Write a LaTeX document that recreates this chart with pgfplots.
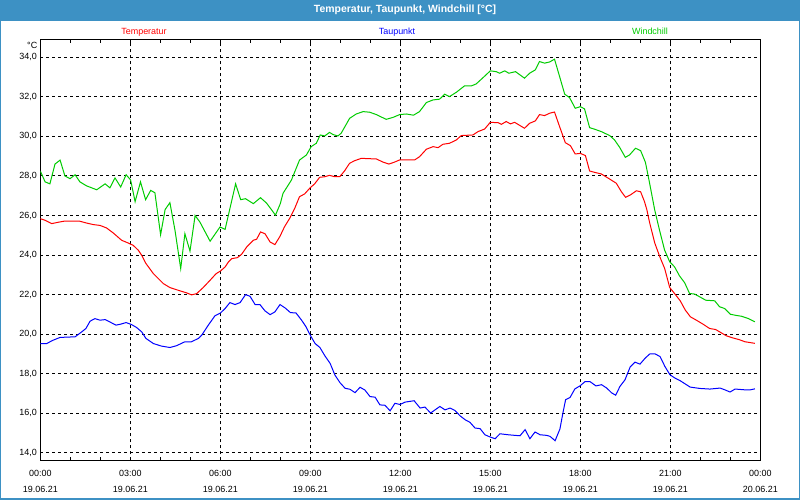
\documentclass[border=0pt]{standalone}
\usepackage{fontspec}
\setmainfont{Liberation Sans}
\usepackage{pgfplots}
\pgfplotsset{compat=1.18}
\definecolor{barblue}{RGB}{61,145,196}
\definecolor{wgreen}{RGB}{0,204,0}

\begin{document}
\begin{tikzpicture}[x=1bp,y=1bp]
\path[use as bounding box] (0,0) rectangle (800,500);
\fill[white] (0,0) rectangle (800,500);
\fill[barblue] (0,479) rectangle (800,500);
\draw[barblue, line width=1.5bp] (0.75,480) -- (0.75,0.75) -- (799.25,0.75) -- (799.25,480);
\node[white, font=\bfseries\fontsize{10.5}{12}\selectfont, anchor=base] at (405,487.7) {Temperatur, Taupunkt, Windchill [°C]};
\node[red, font=\fontsize{9}{11}\selectfont, anchor=base] at (144,465.8) {Temperatur};
\node[blue, font=\fontsize{9}{11}\selectfont, anchor=base] at (397,465.8) {Taupunkt};
\node[wgreen, font=\fontsize{9}{11}\selectfont, anchor=base] at (650,465.8) {Windchill};
\node[font=\fontsize{9}{11}\selectfont, anchor=base east, inner sep=0] at (37.5,451.8) {°C};

\begin{axis}[
    at={(40.3bp,39.7bp)}, anchor=south west,
    width=720bp, height=420.3bp, scale only axis,
    xmin=0, xmax=24, ymin=13.63, ymax=34.87,
    axis line style={black, line width=1bp},
    xtick={0,3,...,24},
    minor x tick num=2,
    xticklabels={{00:00\\19.06.21},{03:00\\19.06.21},{06:00\\19.06.21},{09:00\\19.06.21},{12:00\\19.06.21},{15:00\\19.06.21},{18:00\\19.06.21},{21:00\\19.06.21},{00:00\\20.06.21}},
    ytick={14,16,...,34},
    tick align=inside,
    major tick length=3bp, minor tick length=3bp,
    tick style={black, line width=1bp},
    ytick style={draw=none},
    xmajorgrids, ymajorgrids,
    major grid style={black, line width=1bp, dash pattern=on 3bp off 3bp},
    tick label style={font=\fontsize{9}{15.7}\selectfont},
    xticklabel style={align=center},
    xticklabel shift=6.5bp,
    yticklabel style={/pgf/number format/.cd, fixed, fixed zerofill, precision=1, use comma, assume math mode=true},
    every axis plot/.append style={line width=1bp, mark=none},
]
\addplot[wgreen] coordinates {
(0,28.25)(0.16,27.7)(0.32,27.6)(0.49,28.6)(0.66,28.8)(0.82,28.0)(0.99,27.86)(1.16,28.06)(1.32,27.7)(1.54,27.5)(1.88,27.3)(2.16,27.6)(2.32,27.4)(2.49,27.9)(2.68,27.44)(2.86,28.06)(3.01,27.8)(3.16,26.7)(3.34,27.7)(3.51,26.8)(3.68,27.27)(3.82,27.15)(4.01,25.03)(4.16,26.3)(4.32,26.65)(4.49,25.25)(4.68,23.32)(4.82,25.08)(4.99,24.2)(5.16,26.0)(5.32,25.67)(5.66,24.7)(5.99,25.42)(6.16,25.3)(6.32,26.35)(6.51,27.6)(6.68,26.8)(6.84,26.85)(7.1,26.6)(7.34,26.9)(7.54,26.63)(7.84,26.02)(8.0,26.6)(8.09,27.12)(8.37,27.79)(8.64,28.8)(8.87,29.06)(9.03,29.48)(9.2,29.65)(9.33,30.07)(9.48,30.02)(9.64,30.2)(9.76,30.09)(9.92,30.02)(10.03,30.16)(10.31,30.91)(10.53,31.13)(10.76,31.25)(10.98,31.22)(11.2,31.1)(11.53,30.86)(11.76,30.96)(11.98,31.1)(12.2,31.13)(12.44,31.07)(12.64,31.25)(12.87,31.71)(13.09,31.84)(13.31,31.88)(13.48,32.13)(13.64,32.01)(13.87,32.23)(14.14,32.55)(14.37,32.55)(14.53,32.65)(14.76,32.97)(15.0,33.31)(15.2,33.27)(15.31,33.19)(15.48,33.31)(15.62,33.19)(15.84,33.27)(16.14,32.94)(16.31,33.19)(16.5,33.36)(16.64,33.78)(16.81,33.7)(16.98,33.76)(17.14,33.9)(17.31,33.02)(17.48,32.13)(17.64,31.96)(17.83,31.42)(18.0,31.5)(18.14,31.39)(18.31,30.44)(18.48,30.36)(18.7,30.24)(18.98,30.04)(19.14,29.82)(19.31,29.45)(19.5,28.94)(19.64,29.06)(19.84,29.4)(20.01,29.28)(20.17,28.69)(20.31,27.63)(20.48,26.28)(20.64,25.26)(20.81,24.25)(20.98,23.66)(21.14,23.41)(21.31,22.94)(21.48,22.6)(21.64,22.06)(21.81,22.03)(21.98,21.89)(22.18,21.72)(22.48,21.69)(22.64,21.39)(22.81,21.3)(23.0,21.01)(23.2,20.95)(23.37,20.91)(23.59,20.8)(23.82,20.63)
};
\addplot[red] coordinates {
(0,25.84)(0.16,25.76)(0.38,25.59)(0.6,25.66)(0.82,25.72)(1.04,25.71)(1.32,25.71)(1.54,25.62)(1.77,25.54)(1.99,25.5)(2.21,25.37)(2.43,25.12)(2.71,24.75)(2.93,24.61)(3.1,24.49)(3.27,24.24)(3.38,23.99)(3.51,23.6)(3.77,23.06)(4.1,22.56)(4.32,22.36)(4.6,22.22)(4.88,22.09)(5.04,21.99)(5.21,22.05)(5.43,22.36)(5.66,22.73)(5.86,23.06)(6.01,23.2)(6.16,23.4)(6.27,23.65)(6.38,23.82)(6.57,23.87)(6.71,24.04)(6.88,24.41)(7.1,24.75)(7.21,24.8)(7.34,25.17)(7.49,25.08)(7.66,24.66)(7.82,24.53)(7.99,24.95)(8.14,25.43)(8.31,25.85)(8.48,26.36)(8.64,26.95)(8.81,27.09)(9.0,27.41)(9.14,27.59)(9.31,27.93)(9.48,27.96)(9.64,28.03)(9.81,27.96)(9.98,27.96)(10.14,28.25)(10.31,28.64)(10.48,28.77)(10.7,28.89)(10.98,28.87)(11.2,28.86)(11.42,28.7)(11.62,28.6)(11.81,28.7)(11.98,28.81)(12.48,28.81)(12.64,28.97)(12.87,29.35)(13.09,29.48)(13.26,29.43)(13.42,29.6)(13.64,29.65)(13.87,29.82)(14.03,30.04)(14.42,30.07)(14.59,30.24)(14.81,30.37)(15.0,30.71)(15.26,30.69)(15.37,30.61)(15.53,30.75)(15.67,30.63)(15.81,30.71)(16.14,30.41)(16.31,30.66)(16.5,30.78)(16.64,31.1)(16.81,31.05)(16.98,31.17)(17.14,31.23)(17.31,30.49)(17.44,29.94)(17.5,29.68)(17.67,29.53)(17.83,29.11)(18.0,29.14)(18.17,29.03)(18.31,28.25)(18.48,28.18)(18.7,28.1)(18.98,27.84)(19.2,27.63)(19.37,27.2)(19.51,26.92)(19.67,27.04)(19.87,27.25)(20.01,27.2)(20.14,26.7)(20.22,26.28)(20.31,25.64)(20.48,24.62)(20.64,23.95)(20.81,23.33)(20.98,22.36)(21.14,22.06)(21.33,21.69)(21.5,21.22)(21.67,20.88)(21.87,20.71)(22.09,20.51)(22.31,20.29)(22.51,20.24)(22.7,20.07)(22.87,19.92)(23.07,19.82)(23.29,19.73)(23.49,19.62)(23.82,19.54)
};
\addplot[blue] coordinates {
(0,19.53)(0.21,19.53)(0.43,19.7)(0.66,19.84)(1.16,19.87)(1.38,20.12)(1.52,20.29)(1.66,20.66)(1.82,20.79)(1.99,20.71)(2.16,20.74)(2.32,20.62)(2.52,20.46)(2.68,20.51)(2.86,20.59)(3.04,20.49)(3.21,20.34)(3.38,20.12)(3.52,19.79)(3.77,19.53)(4.04,19.4)(4.32,19.33)(4.54,19.42)(4.82,19.62)(5.04,19.62)(5.27,19.79)(5.38,19.95)(5.6,20.46)(5.82,20.93)(6.01,21.08)(6.16,21.3)(6.32,21.6)(6.49,21.5)(6.66,21.6)(6.84,22.0)(6.99,21.92)(7.16,21.5)(7.32,21.5)(7.49,21.18)(7.66,20.99)(7.82,21.13)(7.99,21.5)(8.16,21.33)(8.34,21.09)(8.52,21.08)(8.71,20.71)(8.86,20.37)(9.01,19.92)(9.16,19.53)(9.32,19.33)(9.49,18.9)(9.66,18.53)(9.82,17.94)(9.99,17.55)(10.16,17.27)(10.32,17.22)(10.49,17.05)(10.66,17.32)(10.82,17.18)(10.99,16.85)(11.16,16.82)(11.32,16.43)(11.49,16.41)(11.66,16.13)(11.82,16.51)(11.99,16.45)(12.16,16.57)(12.46,16.64)(12.66,16.27)(12.82,16.32)(13.01,16.02)(13.16,16.18)(13.32,16.35)(13.49,16.18)(13.66,16.27)(13.82,16.15)(13.99,15.88)(14.16,15.68)(14.32,15.55)(14.49,15.26)(14.66,15.23)(14.82,14.92)(14.99,14.81)(15.16,14.72)(15.32,14.97)(15.6,14.92)(15.82,14.89)(15.99,14.87)(16.16,15.18)(16.32,14.72)(16.49,15.06)(16.66,14.92)(16.88,14.89)(16.99,14.84)(17.16,14.62)(17.32,15.21)(17.43,16.1)(17.51,16.69)(17.66,16.81)(17.82,17.24)(17.99,17.39)(18.16,17.61)(18.32,17.61)(18.52,17.39)(18.71,17.45)(18.88,17.28)(19.05,17.03)(19.18,16.92)(19.32,17.36)(19.49,17.7)(19.66,18.34)(19.82,18.59)(19.99,18.49)(20.16,18.79)(20.32,19.01)(20.49,19.01)(20.66,18.87)(20.82,18.37)(20.99,17.95)(21.16,17.78)(21.32,17.66)(21.66,17.33)(21.99,17.26)(22.32,17.23)(22.66,17.28)(22.82,17.19)(22.99,17.08)(23.16,17.23)(23.49,17.19)(23.66,17.19)(23.82,17.24)
};
\end{axis}
\end{tikzpicture}
\end{document}
